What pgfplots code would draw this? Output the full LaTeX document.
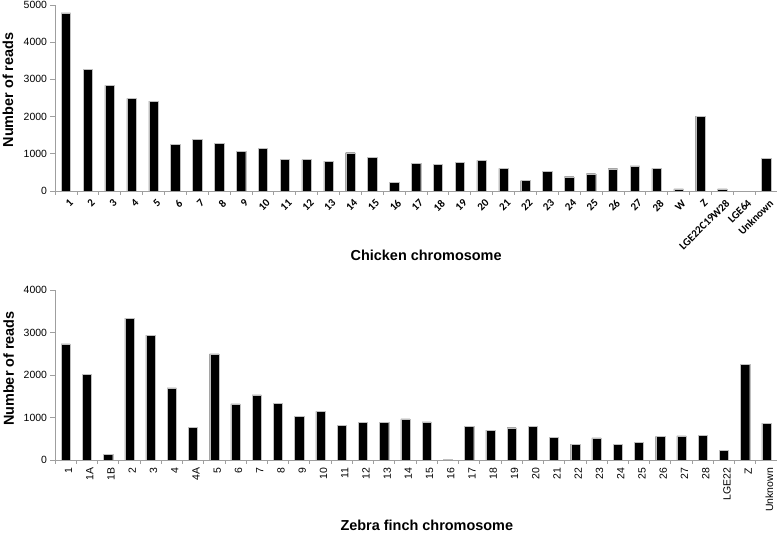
\documentclass[border=0pt]{standalone}
\usepackage{fontspec}
\setmainfont{Liberation Sans}
\newfontfamily\carlito{Carlito}
\usepackage{pgfplots}
\pgfplotsset{compat=1.18}

\pgfplotsset{
  readsaxis/.style={
    scale only axis, width=722bp,
    ybar, bar width=0.43, enlargelimits=false,
    axis x line*=bottom, axis y line*=left,
    axis line style={-, draw=gray!75, line width=0.7pt},
    ymin=0, xmin=-0.5,
    tick align=outside, major tick length=4.5bp, minor tick length=4bp,
    major x tick style={draw=none},
    minor x tick style={draw=gray!75, line width=0.7pt},
    y tick style={draw=gray!75, line width=0.7pt},
    scaled y ticks=false,
    yticklabel style={font=\fontsize{10.5}{12}\selectfont, /pgf/number format/1000 sep={}, /pgf/number format/assume math mode=true},
    ylabel={Number of reads},
    ylabel style={font=\bfseries\fontsize{14.5}{16}\selectfont, anchor=center},
    xlabel style={font=\bfseries\fontsize{14.5}{16}\selectfont, anchor=base},
  },
  readbar/.style={fill=black, draw=gray!50, line width=0.3pt},
}

\begin{document}
\begin{tikzpicture}[x=1bp, y=1bp]
\useasboundingbox (0,0) rectangle (777,534);
\coordinate (chickenorigin) at (55,343);
\coordinate (finchorigin) at (55,74);

% chicken
\begin{axis}[
    readsaxis,
    at={(chickenorigin)}, anchor=south west, height=186bp,
    xmax=32.5, ymax=5000, ytick={0,1000,...,5000},
    xtick={0,...,32},
    minor xtick={-0.5,0.5,...,32.5},
    xticklabels={1,2,3,4,5,6,7,8,9,10,11,12,13,14,15,16,17,18,19,20,21,22,23,24,25,26,27,28,W,Z,LGE22C19W28,LGE64,Unknown},
    xticklabel style={font=\carlito\bfseries\fontsize{11}{12}\selectfont, rotate=45, anchor=east, xshift=3bp, yshift=-8bp},
    xlabel={Chicken chromosome},
    xlabel style={at={(axis description cs:0.514,-0.376)}},
    ylabel style={at={(axis description cs:-0.065,0.543)}},
  ]
  \addplot[readbar] coordinates {
    (0,4790) (1,3270) (2,2840) (3,2490) (4,2415) (5,1260) (6,1390) (7,1275)
    (8,1070) (9,1140) (10,845) (11,845) (12,800) (13,1030) (14,900) (15,240)
    (16,745) (17,720) (18,765) (19,825) (20,610) (21,280) (22,530) (23,385)
    (24,465) (25,600) (26,675) (27,610) (28,60) (29,2010) (30,60) (32,870)
  };
\end{axis}

% zebra finch
\begin{axis}[
    readsaxis,
    at={(finchorigin)}, anchor=south west, height=170bp,
    xmax=33.5, ymax=4000, ytick={0,1000,...,4000},
    xtick={0,...,33},
    minor xtick={-0.5,0.5,...,33.5},
    xticklabels={1,1A,1B,2,3,4,4A,5,6,7,8,9,10,11,12,13,14,15,16,17,18,19,20,21,22,23,24,25,26,27,28,LGE22,Z,Unknown},
    xticklabel style={font=\fontsize{10.5}{12}\selectfont, rotate=90, anchor=east, yshift=-3bp},
    xlabel={Zebra finch chromosome},
    xlabel style={at={(axis description cs:0.515,-0.415)}},
    ylabel style={at={(axis description cs:-0.064,0.538)}},
  ]
  \addplot[readbar] coordinates {
    (0,2730) (1,2015) (2,135) (3,3340) (4,2940) (5,1695) (6,775) (7,2495)
    (8,1320) (9,1535) (10,1340) (11,1025) (12,1145) (13,815) (14,880) (15,880)
    (16,965) (17,895) (18,20) (19,790) (20,700) (21,760) (22,790) (23,535)
    (24,375) (25,520) (26,370) (27,410) (28,555) (29,565) (30,580) (31,230)
    (32,2245) (33,870)
  };
\end{axis}
\end{tikzpicture}
\end{document}
